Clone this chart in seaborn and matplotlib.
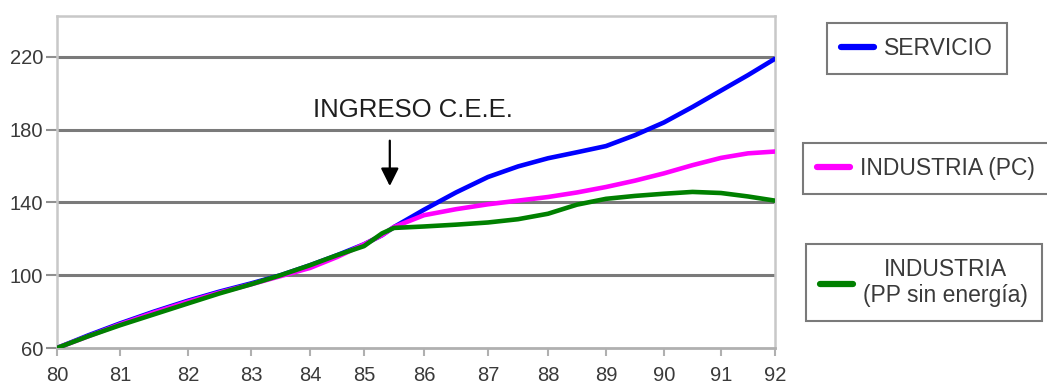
import numpy as np
import pandas as pd
import matplotlib
matplotlib.use("Agg")
import matplotlib.pyplot as plt
import seaborn as sns

# Series values, read at half-year steps (index 1980 = 60 approx.)
years = [80, 80.5, 81, 81.5, 82, 82.5, 83, 83.5, 84, 84.5, 85, 85.3, 85.5,
         86, 86.5, 87, 87.5, 88, 88.5, 89, 89.5, 90, 90.5, 91, 91.5, 92]
servicio = [60, 67, 73.5, 80, 86, 91, 95.5, 100, 105.5, 111, 117, 122, 126.5,
            136, 145.5, 154, 159.8, 164.3, 167.6, 171, 177, 184, 192.5, 201.5, 210, 219]
industria_pc = [60, 66.5, 73, 79.5, 85.5, 90.5, 95, 99.5, 104, 110, 117, 122, 126.5,
                133, 136.3, 139, 141, 143, 145.5, 148.5, 152, 156, 160.5, 164.5, 167, 168]
industria_pp = [60, 66.5, 72.5, 78.5, 84.5, 90, 95, 100, 105.5, 111, 116, 123, 126,
                126.8, 127.8, 129, 130.8, 133.8, 138.8, 142, 143.6, 144.8, 145.8, 145.2, 143.3, 141]

series_names = ["SERVICIO", "INDUSTRIA (PC)", "INDUSTRIA\n(PP sin energía)"]
series_colors = ["#0000ff", "#ff00ff", "#008000"]

tick_years = list(range(80, 93))
y_ticks = [60, 100, 140, 180, 220]
annotation_text = "INGRESO C.E.E."

# The year axis of the original chart is not evenly spaced; these are the
# relative positions of each year tick along the axis.
year_axis_spacing = [0, 63, 131, 194, 253, 307, 367, 431, 491, 549, 607, 664, 718]

df = pd.DataFrame({
    "year": years * 3,
    "value": servicio + industria_pc + industria_pp,
    "series": np.repeat(series_names, len(years)),
})

sns.set_theme(style="white")
plt.rcParams["font.family"] = ["Liberation Sans", "DejaVu Sans"]

W, H = 1047, 385
fig = plt.figure(figsize=(W / 100, H / 100), dpi=100)
ax = fig.add_axes([57 / W, 1 - 348 / H, (775 - 57) / W, (348 - 16) / H])


def fwd(x):
    return np.interp(x, tick_years, year_axis_spacing)


def inv(p):
    return np.interp(p, year_axis_spacing, tick_years)


ax.set_xscale("function", functions=(fwd, inv))

sns.lineplot(data=df, x="year", y="value", hue="series", hue_order=series_names,
             palette=series_colors, linewidth=3.3, legend=False, ax=ax,
             sort=False, zorder=3)
for ln in ax.lines:
    ln.set_solid_joinstyle("round")
    ln.set_solid_capstyle("round")

ax.set_xlim(80, 92)
ax.set_ylim(60, 242.5)
ax.set_xticks(tick_years)
ax.set_xticklabels([str(t) for t in tick_years])
ax.set_yticks(y_ticks)
ax.set_xlabel("")
ax.set_ylabel("")

# horizontal reference lines
for yv in y_ticks[1:]:
    ax.axhline(yv, color="#7a7a7a", linewidth=2.2, zorder=1)

for side in ["left", "top", "right"]:
    ax.spines[side].set_color("#c8c8c8")
    ax.spines[side].set_linewidth(1.8)
ax.spines["bottom"].set_color("#b0b0b0")
ax.spines["bottom"].set_linewidth(2.0)

ax.tick_params(axis="x", length=6, width=1.5, color="#b0b0b0", pad=7,
               labelsize=14.5, labelcolor="#3a3a3a", direction="out", bottom=True)
ax.tick_params(axis="y", length=8, width=1.5, color="#909090", pad=2,
               labelsize=14.5, labelcolor="#3a3a3a", direction="out", left=True)

# EEC entry annotation
ax.text(85.82, 191, annotation_text, ha="center", va="center",
        fontsize=18.5, color="#1e1e1e")
ax.annotate("", xy=(85.43, 147.5), xytext=(85.43, 175.5),
            arrowprops=dict(arrowstyle="-|>,head_width=0.45,head_length=0.9",
                            color="black", lw=1.6))

# one framed legend box per series
handles = ax.lines[:3]
legend_anchors = [(827 / W, 1 - 23 / H), (803 / W, 1 - 143 / H), (806 / W, 1 - 244 / H)]
for h, name, anchor in zip(handles, series_names, legend_anchors):
    leg = fig.legend([h], [name], loc="upper left", bbox_to_anchor=anchor,
                     bbox_transform=fig.transFigure, borderaxespad=0,
                     fontsize=16.5, handlelength=1.45, handletextpad=0.45,
                     borderpad=0.6, frameon=True, fancybox=False,
                     edgecolor="#7a7a7a", facecolor="white", framealpha=1)
    leg.get_frame().set_linewidth(1.5)
    for t in leg.get_texts():
        t.set_color("#3a3a3a")
        t.set_multialignment("center")
    for lh in leg.get_lines():
        lh.set_linewidth(4.5)

fig.savefig("out.png", dpi=100)
